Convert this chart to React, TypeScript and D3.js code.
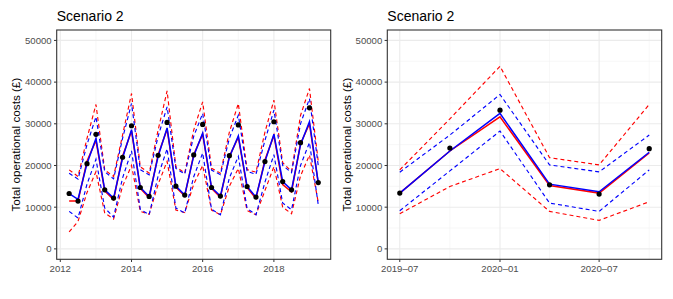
import React from 'react';
import * as d3 from 'd3';

// ---- data: quarterly history (left panel) ----
const histDates = [
  '2012-04-01', '2012-07-01', '2012-10-01',
  '2013-01-01', '2013-04-01', '2013-07-01', '2013-10-01',
  '2014-01-01', '2014-04-01', '2014-07-01', '2014-10-01',
  '2015-01-01', '2015-04-01', '2015-07-01', '2015-10-01',
  '2016-01-01', '2016-04-01', '2016-07-01', '2016-10-01',
  '2017-01-01', '2017-04-01', '2017-07-01', '2017-10-01',
  '2018-01-01', '2018-04-01', '2018-07-01', '2018-10-01',
  '2019-01-01', '2019-04-01',
];
const histActual = [13280, 11460, 20440, 27470, 14170, 12180, 21980, 29530, 14720, 12570, 22450, 30340, 15050, 12900, 22530, 29860, 14720, 12660, 22360, 29740, 14960, 12420, 20930, 30490, 16150, 14170, 25470, 33830, 15910];
const histBlue = [13280, 11900, 20440, 26500, 14170, 12180, 21800, 28600, 14720, 12570, 22200, 29000, 15050, 12900, 22300, 27800, 14720, 12660, 22000, 27100, 14960, 12420, 20930, 27500, 16150, 14170, 25000, 30500, 15910];
const histRed = [11460, 11460, 21000, 26000, 13900, 11800, 22200, 28300, 14500, 12300, 22600, 28700, 14800, 12700, 22600, 27500, 14500, 12400, 22200, 26800, 14700, 12100, 21300, 27200, 15400, 13700, 25200, 30000, 15800];
const histRedUp = [18950, 17350, 26500, 34640, 18950, 17350, 27300, 37270, 19700, 18160, 28500, 37900, 19730, 18160, 28500, 35260, 19330, 18160, 28000, 34880, 19000, 18400, 28000, 35670, 20690, 18540, 32000, 38460, 21000];
const histBlueUp = [18160, 16720, 25000, 31680, 18500, 16800, 26500, 34880, 19000, 17750, 27000, 34070, 19300, 17950, 27000, 32490, 18900, 17800, 26500, 32090, 18600, 17900, 26000, 33280, 20000, 18300, 30000, 36060, 20000];
const histBlueLow = [8990, 7400, 15500, 21500, 9790, 7640, 17000, 23500, 9500, 8200, 17500, 24000, 9800, 8600, 17300, 23000, 9500, 8190, 17000, 22200, 9700, 8190, 16000, 22600, 11000, 9390, 20000, 25500, 10580];
const histRedLow = [4060, 6600, 13500, 18500, 8600, 7160, 15000, 20000, 9000, 8300, 15500, 21000, 9300, 8740, 15500, 20000, 9300, 8190, 15000, 19300, 9200, 8190, 14000, 19700, 10000, 8430, 17500, 22500, 11200];

// ---- data: test period (right panel) ----
const testDates = ['2019-07-01', '2019-10-01', '2020-01-01', '2020-04-01', '2020-07-01', '2020-10-01'];
const testActual = [13380, 24200, 33280, 15360, 13140, 24030];
const testBlue = [13380, 23480, 32490, 15530, 13690, 23170];
const testRed = [13380, 23480, 31680, 15200, 13380, 23000];
const testRedUp = [18950, 31200, 43790, 21880, 20140, 34640];
const testBlueUp = [18390, 27300, 37030, 20140, 18470, 27300];
const testBlueLow = [9150, 18700, 28260, 10990, 8990, 18950];
const testRedLow = [8430, 14960, 19260, 8990, 6840, 11300];

// ---- axes ----
const yTicks = [0, 10000, 20000, 30000, 40000, 50000];
const yMinor = [5000, 15000, 25000, 35000, 45000];
const histXTicks = ['2012-01-01', '2014-01-01', '2016-01-01', '2018-01-01'];
const histXLabels = ['2012', '2014', '2016', '2018'];
const histXMinor = ['2013-01-01', '2015-01-01', '2017-01-01', '2019-01-01'];
const testXTicks = ['2019-07-01', '2020-01-01', '2020-07-01'];
const testXLabels = ['2019\u201307', '2020\u201301', '2020\u201307'];
const testXMinor = ['2019-10-01', '2020-04-01', '2020-10-01'];

const FONT = '"Liberation Sans", Arial, Helvetica, sans-serif';
const parse = d3.utcParse('%Y-%m-%d');

interface PanelProps {
  left: number;
  right: number;
  dates: string[];
  actual: number[];
  blue: number[];
  red: number[];
  redUp: number[];
  redLow: number[];
  blueUp: number[];
  blueLow: number[];
  xTicks: string[];
  xLabels: string[];
  xMinor: string[];
}

const Panel = (p: PanelProps) => {
  const top = 30;
  const bottom = 259.3;
  const ds = p.dates.map(d => parse(d) as Date);
  const [d0, d1] = d3.extent(ds) as [Date, Date];
  // ggplot-style 5% expansion on the time axis
  const pad = (d1.getTime() - d0.getTime()) * 0.05;
  const x = d3.scaleUtc()
    .domain([new Date(d0.getTime() - pad), new Date(d1.getTime() + pad)])
    .range([p.left, p.right]);
  const y = d3.scaleLinear().domain([-2500, 52500]).range([bottom, top]);

  const line = (vals: number[]) =>
    d3.line<number>()
      .x((_, i) => x(ds[i]))
      .y(v => y(v))(vals) || '';

  const dashed = { fill: 'none', strokeWidth: 1.15, strokeDasharray: '4,3' };

  return (
    <g>
      <rect x={p.left} y={top} width={p.right - p.left} height={bottom - top} fill="#fff" />
      {yMinor.map(v => (
        <line key={'ym' + v} x1={p.left} x2={p.right} y1={y(v)} y2={y(v)} stroke="#f2f2f2" strokeWidth={0.6} />
      ))}
      {p.xMinor.map(d => (
        <line key={'xm' + d} x1={x(parse(d) as Date)} x2={x(parse(d) as Date)} y1={top} y2={bottom} stroke="#f2f2f2" strokeWidth={0.6} />
      ))}
      {yTicks.map(v => (
        <line key={'yg' + v} x1={p.left} x2={p.right} y1={y(v)} y2={y(v)} stroke="#ebebeb" strokeWidth={1.1} />
      ))}
      {p.xTicks.map(d => (
        <line key={'xg' + d} x1={x(parse(d) as Date)} x2={x(parse(d) as Date)} y1={top} y2={bottom} stroke="#ebebeb" strokeWidth={1.1} />
      ))}

      <path d={line(p.redUp)} stroke="#ff0000" {...dashed} />
      <path d={line(p.redLow)} stroke="#ff0000" {...dashed} />
      <path d={line(p.blueUp)} stroke="#0000ff" {...dashed} />
      <path d={line(p.blueLow)} stroke="#0000ff" {...dashed} />
      <path d={line(p.red)} stroke="#ff0000" fill="none" strokeWidth={1.5} />
      <path d={line(p.blue)} stroke="#0000ff" fill="none" strokeWidth={1.5} />
      {p.actual.map((v, i) => (
        <circle key={'pt' + i} cx={x(ds[i])} cy={y(v)} r={2.6} fill="#000" />
      ))}

      <rect x={p.left} y={top} width={p.right - p.left} height={bottom - top} fill="none" stroke="#333333" strokeWidth={1.1} />

      {yTicks.map(v => (
        <g key={'yt' + v}>
          <line x1={p.left - 2.7} x2={p.left} y1={y(v)} y2={y(v)} stroke="#333333" strokeWidth={1} />
          <text x={p.left - 5} y={y(v)} dy="0.35em" textAnchor="end" fontSize={9.6} fill="#4d4d4d" fontFamily={FONT}>{v}</text>
        </g>
      ))}
      {p.xTicks.map((d, i) => (
        <g key={'xt' + d}>
          <line x1={x(parse(d) as Date)} x2={x(parse(d) as Date)} y1={bottom} y2={bottom + 2.7} stroke="#333333" strokeWidth={1} />
          <text x={x(parse(d) as Date)} y={271.8} textAnchor="middle" fontSize={9.6} fill="#4d4d4d" fontFamily={FONT}>{p.xLabels[i]}</text>
        </g>
      ))}

      <text x={p.left} y={21} fontSize={14} fill="#000" fontFamily={FONT}>Scenario 2</text>
      <text
        transform={`translate(${p.left - 36.5},${(top + bottom) / 2}) rotate(-90)`}
        textAnchor="middle" fontSize={11.7} fill="#000" fontFamily={FONT}
      >Total operational costs (£)</text>
    </g>
  );
};

const App = () => (
  <div style={{ position: 'absolute', left: 0, top: 0 }}>
    <svg width={673} height={299} style={{ display: 'block', background: '#fff' }}>
      <Panel
        left={56.7} right={330.7}
        dates={histDates} actual={histActual} blue={histBlue} red={histRed}
        redUp={histRedUp} redLow={histRedLow} blueUp={histBlueUp} blueLow={histBlueLow}
        xTicks={histXTicks} xLabels={histXLabels} xMinor={histXMinor}
      />
      <Panel
        left={387.3} right={661.7}
        dates={testDates} actual={testActual} blue={testBlue} red={testRed}
        redUp={testRedUp} redLow={testRedLow} blueUp={testBlueUp} blueLow={testBlueLow}
        xTicks={testXTicks} xLabels={testXLabels} xMinor={testXMinor}
      />
    </svg>
  </div>
);

export default App;
